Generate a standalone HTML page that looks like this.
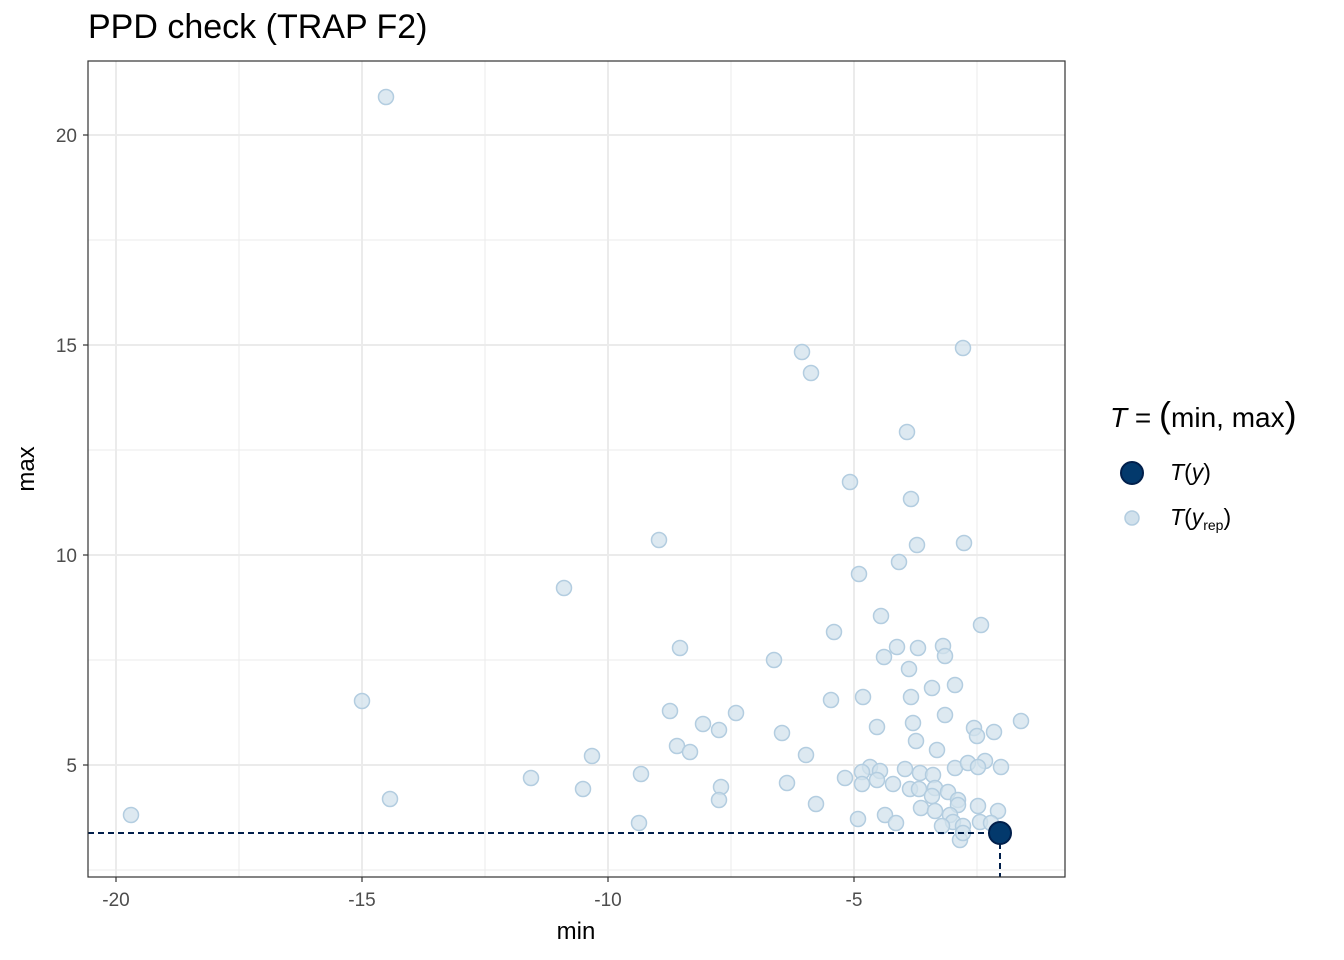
<!DOCTYPE html>
<html><head><meta charset="utf-8"><style>body{margin:0;background:#fff}svg{display:block}</style></head><body>
<svg width="1344" height="960" xmlns="http://www.w3.org/2000/svg" font-family="Liberation Sans, sans-serif">
<rect width="1344" height="960" fill="#fff"/>
<g stroke="#ebebeb" stroke-width="1">
<line x1="239" y1="61" x2="239" y2="877"/><line x1="485" y1="61" x2="485" y2="877"/><line x1="731" y1="61" x2="731" y2="877"/><line x1="977" y1="61" x2="977" y2="877"/>
<line x1="88" y1="240" x2="1065" y2="240"/><line x1="88" y1="450" x2="1065" y2="450"/><line x1="88" y1="660" x2="1065" y2="660"/><line x1="88" y1="870" x2="1065" y2="870"/>
</g>
<g stroke="#ebebeb" stroke-width="2">
<line x1="116" y1="61" x2="116" y2="877"/><line x1="362" y1="61" x2="362" y2="877"/><line x1="608" y1="61" x2="608" y2="877"/><line x1="854" y1="61" x2="854" y2="877"/>
<line x1="88" y1="135" x2="1065" y2="135"/><line x1="88" y1="345" x2="1065" y2="345"/><line x1="88" y1="555" x2="1065" y2="555"/><line x1="88" y1="765" x2="1065" y2="765"/>
</g>
<g fill="#d1e1ec" fill-opacity="0.75" stroke="#b3cde0" stroke-width="1.5">
<circle cx="386" cy="97" r="7.5"/><circle cx="802" cy="352" r="7.5"/><circle cx="811" cy="373" r="7.5"/><circle cx="963" cy="348" r="7.5"/><circle cx="907" cy="432" r="7.5"/><circle cx="850" cy="482" r="7.5"/><circle cx="911" cy="499" r="7.5"/><circle cx="659" cy="540" r="7.5"/><circle cx="917" cy="545" r="7.5"/><circle cx="964" cy="543" r="7.5"/><circle cx="899" cy="562" r="7.5"/><circle cx="859" cy="574" r="7.5"/><circle cx="564" cy="588" r="7.5"/><circle cx="881" cy="616" r="7.5"/><circle cx="981" cy="625" r="7.5"/><circle cx="834" cy="632" r="7.5"/><circle cx="680" cy="648" r="7.5"/><circle cx="897" cy="647" r="7.5"/><circle cx="918" cy="648" r="7.5"/><circle cx="943" cy="646" r="7.5"/><circle cx="774" cy="660" r="7.5"/><circle cx="884" cy="657" r="7.5"/><circle cx="945" cy="656" r="7.5"/><circle cx="909" cy="669" r="7.5"/><circle cx="362" cy="701" r="7.5"/><circle cx="863" cy="697" r="7.5"/><circle cx="831" cy="700" r="7.5"/><circle cx="911" cy="697" r="7.5"/><circle cx="932" cy="688" r="7.5"/><circle cx="955" cy="685" r="7.5"/><circle cx="670" cy="711" r="7.5"/><circle cx="703" cy="724" r="7.5"/><circle cx="736" cy="713" r="7.5"/><circle cx="877" cy="727" r="7.5"/><circle cx="913" cy="723" r="7.5"/><circle cx="945" cy="715" r="7.5"/><circle cx="1021" cy="721" r="7.5"/><circle cx="782" cy="733" r="7.5"/><circle cx="719" cy="730" r="7.5"/><circle cx="974" cy="728" r="7.5"/><circle cx="977" cy="736" r="7.5"/><circle cx="994" cy="732" r="7.5"/><circle cx="916" cy="741" r="7.5"/><circle cx="937" cy="750" r="7.5"/><circle cx="677" cy="746" r="7.5"/><circle cx="690" cy="752" r="7.5"/><circle cx="806" cy="755" r="7.5"/><circle cx="592" cy="756" r="7.5"/><circle cx="985" cy="761" r="7.5"/><circle cx="870" cy="767" r="7.5"/><circle cx="880" cy="771" r="7.5"/><circle cx="862" cy="772" r="7.5"/><circle cx="955" cy="768" r="7.5"/><circle cx="968" cy="763" r="7.5"/><circle cx="978" cy="767" r="7.5"/><circle cx="1001" cy="767" r="7.5"/><circle cx="905" cy="769" r="7.5"/><circle cx="920" cy="773" r="7.5"/><circle cx="933" cy="775" r="7.5"/><circle cx="531" cy="778" r="7.5"/><circle cx="641" cy="774" r="7.5"/><circle cx="845" cy="778" r="7.5"/><circle cx="877" cy="780" r="7.5"/><circle cx="862" cy="784" r="7.5"/><circle cx="893" cy="784" r="7.5"/><circle cx="787" cy="783" r="7.5"/><circle cx="721" cy="787" r="7.5"/><circle cx="583" cy="789" r="7.5"/><circle cx="910" cy="789" r="7.5"/><circle cx="919" cy="789" r="7.5"/><circle cx="935" cy="788" r="7.5"/><circle cx="948" cy="792" r="7.5"/><circle cx="932" cy="796" r="7.5"/><circle cx="958" cy="800" r="7.5"/><circle cx="958" cy="805" r="7.5"/><circle cx="390" cy="799" r="7.5"/><circle cx="719" cy="800" r="7.5"/><circle cx="816" cy="804" r="7.5"/><circle cx="978" cy="806" r="7.5"/><circle cx="921" cy="808" r="7.5"/><circle cx="935" cy="811" r="7.5"/><circle cx="131" cy="815" r="7.5"/><circle cx="998" cy="811" r="7.5"/><circle cx="858" cy="819" r="7.5"/><circle cx="885" cy="815" r="7.5"/><circle cx="950" cy="815" r="7.5"/><circle cx="953" cy="822" r="7.5"/><circle cx="639" cy="823" r="7.5"/><circle cx="896" cy="823" r="7.5"/><circle cx="980" cy="822" r="7.5"/><circle cx="942" cy="826" r="7.5"/><circle cx="963" cy="826" r="7.5"/><circle cx="991" cy="823" r="7.5"/><circle cx="960" cy="840" r="7.5"/><circle cx="963" cy="833" r="7.5"/>
</g>
<line x1="88" y1="833" x2="1000" y2="833" stroke="#011f4b" stroke-width="2" stroke-dasharray="6,4"/>
<line x1="1000" y1="833" x2="1000" y2="877" stroke="#011f4b" stroke-width="2" stroke-dasharray="6,4"/>
<circle cx="1000" cy="833" r="11" fill="#03396c" stroke="#011f4b" stroke-width="2"/>
<rect x="88" y="61" width="977" height="816" fill="none" stroke="#333" stroke-width="1.2"/>
<g stroke="#333" stroke-width="1.2">
<line x1="116" y1="877" x2="116" y2="882"/><line x1="362" y1="877" x2="362" y2="882"/><line x1="608" y1="877" x2="608" y2="882"/><line x1="854" y1="877" x2="854" y2="882"/>
<line x1="83" y1="135" x2="88" y2="135"/><line x1="83" y1="345" x2="88" y2="345"/><line x1="83" y1="555" x2="88" y2="555"/><line x1="83" y1="765" x2="88" y2="765"/>
</g>
<g fill="#4d4d4d" font-size="19" text-anchor="middle">
<text x="116" y="906">-20</text><text x="362" y="906">-15</text><text x="608" y="906">-10</text><text x="854" y="906">-5</text>
</g>
<g fill="#4d4d4d" font-size="19" text-anchor="end">
<text x="77" y="142">20</text><text x="77" y="352">15</text><text x="77" y="562">10</text><text x="77" y="772">5</text>
</g>
<text x="576" y="939" font-size="24" text-anchor="middle">min</text>
<text x="34" y="469" font-size="24" text-anchor="middle" transform="rotate(-90 34 469)">max</text>
<text x="88" y="38" font-size="34">PPD check (TRAP F2)</text>
<text x="1110" y="427" font-size="28"><tspan font-style="italic">T</tspan> = <tspan font-size="36">(</tspan>min, max<tspan font-size="36">)</tspan></text>
<circle cx="1132" cy="473" r="11" fill="#03396c" stroke="#011f4b" stroke-width="2"/>
<circle cx="1132" cy="518" r="7" fill="#d1e1ec" stroke="#b3cde0" stroke-width="1.5"/>
<text x="1170" y="480" font-size="23"><tspan font-style="italic">T</tspan>(<tspan font-style="italic">y</tspan>)</text>
<text x="1170" y="525" font-size="23"><tspan font-style="italic">T</tspan>(<tspan font-style="italic">y</tspan><tspan font-size="14" dy="5">rep</tspan><tspan dy="-5">)</tspan></text>
</svg>
</body></html>
